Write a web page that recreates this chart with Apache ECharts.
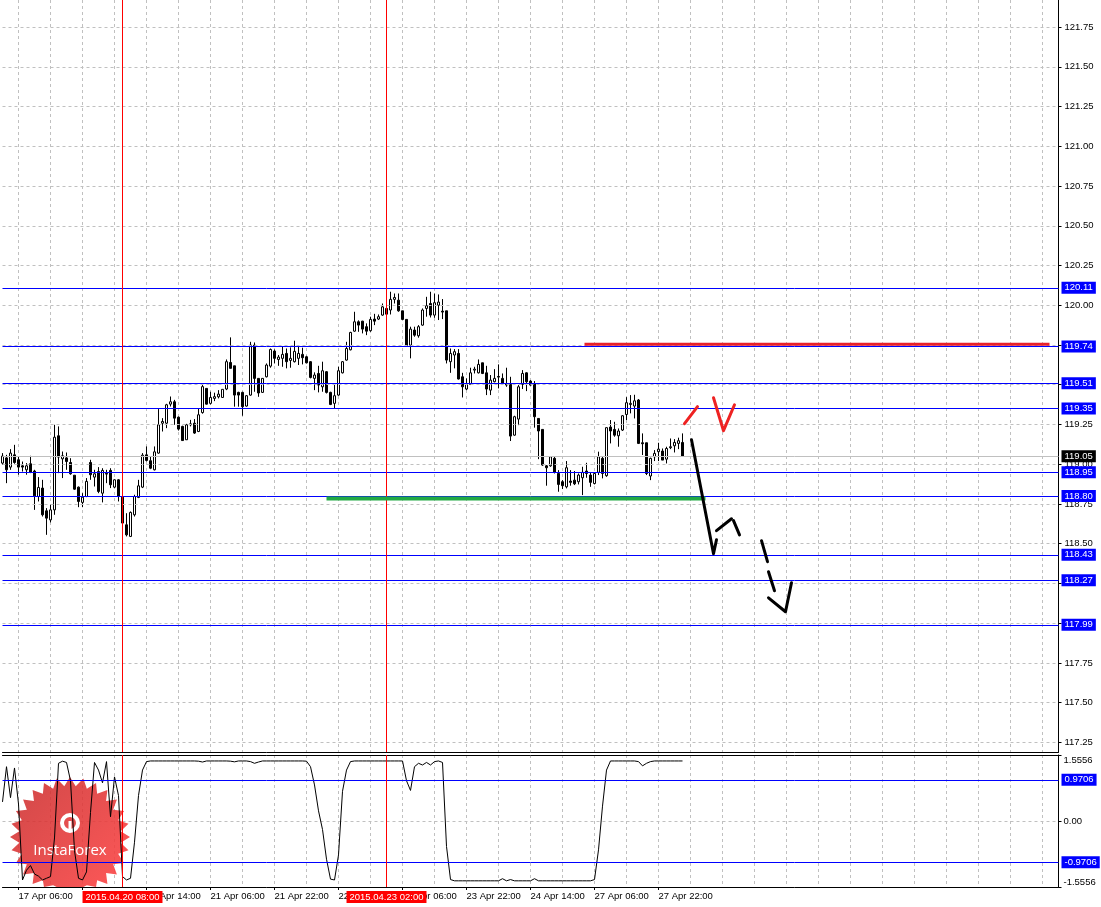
<!DOCTYPE html>
<html><head><meta charset="utf-8">
<script src="https://cdn.jsdelivr.net/npm/echarts@6/dist/echarts.min.js"></script>
<style>html,body{margin:0;padding:0;background:#fff}#c{width:1101px;height:907px}</style>
</head><body><div id="c"></div>
<script>
// ---------- DATA ----------
const openVals = [119.007,119.040,118.982,119.059,119.028,118.990,118.965,119.003,118.957,118.797,
118.850,118.707,118.650,118.713,119.179,119.034,119.040,119.011,118.931,118.856,
118.760,118.797,119.011,118.919,118.954,118.818,118.942,118.961,118.856,118.902,
118.793,118.619,118.546,118.682,118.791,118.856,119.059,119.022,118.965,119.070,
119.258,119.258,119.378,119.393,119.296,119.238,119.154,119.248,119.258,119.206,
119.325,119.477,119.383,119.414,119.424,119.420,119.473,119.640,119.619,119.452,
119.452,119.366,119.435,119.749,119.540,119.452,119.550,119.617,119.712,119.659,
119.666,119.697,119.653,119.645,119.666,119.691,119.676,119.645,119.540,119.571,
119.487,119.582,119.452,119.383,119.435,119.575,119.655,119.720,119.837,119.896,
119.900,119.865,119.840,119.913,119.913,119.938,119.980,119.970,120.037,120.032,
119.965,119.911,119.749,119.844,119.808,119.875,119.980,120.011,119.938,120.000,
119.963,119.965,119.645,119.687,119.697,119.550,119.473,119.502,119.592,119.575,
119.638,119.575,119.466,119.519,119.552,119.540,119.504,119.502,119.183,119.284,
119.502,119.575,119.523,119.508,119.288,119.219,118.990,118.990,119.037,118.942,
118.890,118.858,118.894,118.900,118.890,118.915,118.957,118.932,118.879,118.949,
119.037,118.928,119.234,119.219,119.179,119.215,119.313,119.376,119.366,119.404,
119.135,119.135,118.926,119.047,119.079,119.083,119.032,119.104,119.116,119.131,119.137];
const closeVals = [119.051,118.965,119.070,119.011,118.982,118.982,118.990,118.948,118.801,118.854,
118.682,118.661,118.713,119.170,119.045,119.053,119.017,118.940,118.843,118.766,
118.793,118.892,118.934,118.940,118.829,118.961,118.938,118.871,118.902,118.797,
118.630,118.556,118.697,118.797,118.864,119.057,119.024,118.975,119.078,119.248,
119.269,119.374,119.393,119.290,119.221,119.149,119.248,119.254,119.196,119.311,
119.488,119.378,119.420,119.425,119.441,119.471,119.645,119.603,119.435,119.435,
119.362,119.431,119.749,119.540,119.448,119.540,119.624,119.722,119.666,119.674,
119.691,119.645,119.666,119.710,119.697,119.670,119.638,119.546,119.561,119.498,
119.588,119.452,119.376,119.431,119.588,119.645,119.728,119.829,119.896,119.875,
119.850,119.837,119.911,119.900,119.928,119.990,119.944,120.037,120.049,119.965,
119.911,119.743,119.850,119.812,119.865,119.970,119.997,119.938,120.016,120.020,
119.957,119.655,119.697,119.708,119.536,119.487,119.502,119.575,119.598,119.628,
119.571,119.473,119.529,119.540,119.548,119.508,119.498,119.177,119.299,119.487,
119.571,119.519,119.498,119.299,119.209,118.995,118.978,119.047,118.949,118.873,
118.865,118.978,118.886,118.877,118.932,118.949,118.942,118.886,118.942,119.047,
118.942,119.230,119.209,119.183,119.209,119.305,119.387,119.383,119.399,119.131,
119.129,118.942,119.037,119.068,119.095,119.026,119.099,119.110,119.137,119.148,119.050];
const lowVals = [118.996,118.881,118.965,119.003,118.934,118.954,118.934,118.944,118.713,118.766,
118.671,118.556,118.634,118.682,118.944,118.913,118.965,118.934,118.839,118.730,
118.730,118.793,118.902,118.860,118.818,118.760,118.881,118.850,118.850,118.766,
118.625,118.546,118.542,118.671,118.787,118.850,119.017,118.969,118.961,119.066,
119.206,119.227,119.363,119.248,119.212,119.149,119.154,119.238,119.191,119.202,
119.318,119.376,119.376,119.397,119.414,119.418,119.466,119.603,119.362,119.362,
119.305,119.362,119.431,119.456,119.424,119.448,119.546,119.607,119.634,119.619,
119.613,119.603,119.607,119.640,119.624,119.628,119.634,119.540,119.466,119.452,
119.456,119.445,119.372,119.351,119.431,119.571,119.651,119.716,119.833,119.833,
119.823,119.812,119.833,119.875,119.907,119.934,119.942,119.942,120.011,119.959,
119.907,119.739,119.666,119.802,119.796,119.871,119.928,119.923,119.921,119.907,
119.913,119.634,119.575,119.603,119.533,119.420,119.466,119.498,119.571,119.571,
119.567,119.435,119.435,119.515,119.477,119.502,119.487,119.146,119.179,119.246,
119.473,119.460,119.494,119.230,119.032,118.990,118.865,118.984,118.942,118.827,
118.844,118.848,118.865,118.869,118.873,118.806,118.915,118.858,118.873,118.932,
118.911,118.921,119.131,119.173,119.110,119.209,119.278,119.320,119.288,119.127,
119.058,118.932,118.900,119.020,119.020,119.026,119.005,119.095,119.074,119.095,119.047];
const highVals = [119.070,119.059,119.095,119.122,119.049,119.017,119.007,119.053,118.965,118.919,
118.902,118.724,118.745,119.248,119.238,119.080,119.074,119.038,118.931,118.860,
118.818,118.913,119.028,118.965,118.982,118.975,118.965,118.975,118.906,118.906,
118.793,118.692,118.703,118.808,118.902,119.070,119.112,119.049,119.112,119.347,
119.290,119.380,119.426,119.405,119.300,119.242,119.254,119.279,119.284,119.353,
119.500,119.477,119.456,119.450,119.466,119.471,119.659,119.798,119.619,119.456,
119.456,119.435,119.770,119.766,119.540,119.540,119.634,119.728,119.722,119.687,
119.739,119.728,119.735,119.777,119.739,119.733,119.682,119.649,119.578,119.619,
119.645,119.586,119.456,119.502,119.613,119.649,119.770,119.833,119.959,119.905,
119.902,119.886,119.928,119.946,119.942,120.011,119.997,120.085,120.074,120.074,
119.965,119.911,119.865,119.865,119.875,119.980,120.053,120.085,120.074,120.068,
120.039,119.965,119.728,119.724,119.724,119.575,119.540,119.607,119.613,119.659,
119.638,119.619,119.561,119.598,119.628,119.571,119.607,119.550,119.305,119.498,
119.592,119.578,119.529,119.523,119.288,119.219,118.995,119.051,119.047,118.963,
118.900,119.020,118.963,118.957,118.942,118.984,119.009,118.949,118.946,119.079,
119.047,119.232,119.278,119.267,119.225,119.309,119.422,119.435,119.437,119.410,
119.194,119.135,119.041,119.089,119.135,119.099,119.110,119.162,119.158,119.167,119.194];
const oscVals = [0.45,1.28,0.55,1.25,0.40,-1.39,-1.16,-1.05,-1.25,-1.30,
-1.39,-1.35,-1.31,-0.40,1.36,1.41,1.38,0.95,-0.70,-1.35,
-1.39,-1.20,0.20,1.38,1.20,0.90,1.40,0.10,1.04,0.60,
-1.31,-1.39,-1.35,-0.50,0.60,1.20,1.40,1.415,1.415,1.415,
1.415,1.415,1.415,1.415,1.415,1.415,1.415,1.415,1.415,1.41,
1.39,1.415,1.415,1.415,1.415,1.415,1.415,1.41,1.395,1.415,
1.415,1.415,1.40,1.36,1.39,1.415,1.415,1.415,1.415,1.415,
1.415,1.415,1.415,1.415,1.415,1.415,1.41,1.28,0.85,0.24,
-0.20,-0.90,-1.37,-1.39,-0.80,0.70,1.20,1.40,1.415,1.415,
1.415,1.415,1.415,1.415,1.415,1.415,1.415,1.415,1.415,1.415,
1.415,0.95,0.72,1.28,1.36,1.32,1.38,1.32,1.40,1.415,
1.38,-0.60,-1.38,-1.41,-1.41,-1.41,-1.41,-1.41,-1.41,-1.41,
-1.41,-1.41,-1.41,-1.41,-1.41,-1.36,-1.41,-1.38,-1.41,-1.41,
-1.41,-1.41,-1.41,-1.36,-1.41,-1.41,-1.41,-1.41,-1.41,-1.41,
-1.41,-1.41,-1.41,-1.41,-1.41,-1.41,-1.41,-1.41,-1.38,-0.68,
0.35,1.20,1.415,1.415,1.415,1.415,1.415,1.415,1.415,1.40,
1.30,1.36,1.40,1.415,1.415,1.415,1.415,1.415,1.415,1.415,1.415];

const tickValues = [117.25,117.50,117.75,118.00,118.25,118.50,118.75,119.00,119.25,119.50,119.75,120.00,120.25,120.50,120.75,121.00,121.25,121.50,121.75];
const tickLabels = tickValues.map(v => v.toFixed(2));
const levelValues = [120.11,119.74,119.51,119.35,118.95,118.80,118.43,118.27,117.99];
const levelLabels = ['120.11','119.74','119.51','119.35','118.95','118.80','118.43','118.27','117.99'];
const lastPrice = 119.05, lastPriceLabel = '119.05';
const oscLevels = [0.9706,-0.9706], oscLevelLabels = ['0.9706','-0.9706'];
const oscMin = -1.5556, oscMax = 1.5556;
const markerIdx = [30, 96], markerLabels = ['2015.04.20 08:00','2015.04.23 02:00'];

// hand-drawn annotations, in (bar index, price)
const redLevel = [[145.5,119.755],[261.75,119.755]];
const greenLevel = [[81,118.785],[175.75,118.785]];
const redStrokes = [
  [[170.5,119.255],[173.75,119.362]],
  [[177.75,119.418],[180.25,119.211],[183,119.374]]
];
const blackStrokes = [
  [[172.25,119.154],[177.75,118.437],[178.5,118.525]],
  [[178.5,118.582],[182.25,118.657]],
  [[182.75,118.645],[184.25,118.556]],
  [[189.75,118.519],[191.25,118.387]],
  [[191.5,118.324],[193.0,118.204]],
  [[191.5,118.160],[195.75,118.072],[197.25,118.255]]
];

// categories: hourly bars, weekends skipped
const months = ['Jan','Feb','Mar','Apr','May','Jun','Jul','Aug','Sep','Oct','Nov','Dec'];
const categories = [];
(function(){ let t = Date.UTC(2015,3,17,2);
  while (categories.length < 265) { const d = new Date(t); const wd = d.getUTCDay();
    if (wd !== 0 && wd !== 6) categories.push(d.getUTCDate()+' '+months[d.getUTCMonth()]+' '+String(d.getUTCHours()).padStart(2,'0')+':00');
    t += 3600000; } })();
const NBARS = openVals.length;

// ---------- CHART ----------
const FONT = 'Liberation Sans';
const FS = 9.5;
const chart = echarts.init(document.getElementById('c'), null, {renderer:'canvas'});
const candleData = openVals.map((o,i)=>[o, closeVals[i], lowVals[i], highVals[i]]);
const labelShow = (i) => i < NBARS && (i - 4) % 16 === 0;
const gridShow = (i) => (i - 4) % 8 === 0;
const dashed = {color:'#c0c0c0', width:1, type:[3,3]};

const strokeSeries = [];
redStrokes.forEach(s => strokeSeries.push({type:'line', xAxisIndex:3, yAxisIndex:0, data:s, showSymbol:false, silent:true, z:6,
  lineStyle:{color:'#ee2222', width:3, cap:'round', join:'round'}}));
blackStrokes.forEach(s => strokeSeries.push({type:'line', xAxisIndex:3, yAxisIndex:0, data:s, showSymbol:false, silent:true, z:6,
  lineStyle:{color:'#000000', width:3, cap:'round', join:'round'}}));

// logo geometry
const cx = 70, cy = 837;
const star = [];
for (let k = 0; k < 56; k++) { const r = k % 2 ? 51 : 60; const a = Math.PI * k / 28 - Math.PI/2;
  star.push([cx + r*Math.cos(a), Math.min(887, cy + r*Math.sin(a))]); }

const noZeroLine = {show:true, onZero:false, lineStyle:{color:'#000', width:1}};

chart.setOption({
  animation:false,
  backgroundColor:'#ffffff',
  textStyle:{fontFamily:FONT},
  grid:[{left:2.5, top:0, width:1056, height:752}, {left:2.5, top:755, width:1056, height:132}],
  xAxis:[
    {type:'category', gridIndex:0, data:categories, boundaryGap:false,
      axisLine:noZeroLine, axisTick:{show:false}, axisLabel:{show:false},
      splitLine:{show:true, interval:gridShow, lineStyle:dashed}},
    {type:'category', gridIndex:1, data:categories, boundaryGap:false,
      axisLine:noZeroLine,
      axisTick:{show:true, interval:labelShow, length:3, lineStyle:{color:'#000'}},
      axisLabel:{show:true, interval:labelShow, align:'left', margin:4, color:'#000', fontSize:FS, fontFamily:FONT},
      splitLine:{show:true, interval:gridShow, lineStyle:dashed}},
    {type:'category', gridIndex:1, data:categories, boundaryGap:false, position:'top',
      axisLine:noZeroLine, axisTick:{show:false}, axisLabel:{show:false}, splitLine:{show:false}},
    {type:'value', gridIndex:0, min:0, max:categories.length-1, show:false, axisLine:{onZero:false}}
  ],
  yAxis:[
    {type:'value', gridIndex:0, position:'right', min:117.19, max:121.92,
      axisLine:noZeroLine, axisTick:{show:true, customValues:tickValues, length:3, lineStyle:{color:'#000'}},
      axisLabel:{show:false}, splitLine:{show:false}},
    {type:'value', gridIndex:1, position:'right', min:oscMin, max:oscMax, interval:oscMax,
      axisLine:noZeroLine,
      axisTick:{show:true, length:3, lineStyle:{color:'#000'}},
      axisLabel:{show:true, margin:5, color:'#000', fontSize:FS, fontFamily:FONT,
        verticalAlignMaxLabel:'top', verticalAlignMinLabel:'bottom',
        formatter:(v)=> Math.abs(v) < 1e-9 ? '0.00' : v.toFixed(4)},
      splitLine:{show:true, lineStyle:dashed}}
  ],
  graphic:[
    {type:'polygon', z:1, silent:true, shape:{points:star},
      style:{fill:new echarts.graphic.LinearGradient(0,0,1,1,[{offset:0,color:'rgba(200,40,40,0.85)'},{offset:1,color:'rgba(255,70,70,0.9)'}])}},
    {type:'circle', z:1, silent:true, shape:{cx:cx, cy:cy-14, r:8}, style:{fill:'none', stroke:'#fff', lineWidth:4}},
    {type:'rect', z:1, silent:true, shape:{x:cx-1.5, y:cy-16, width:3, height:10}, style:{fill:'#fff'}},
    {type:'text', z:1, silent:true, x:cx, y:cy+14, style:{text:'InstaForex', fill:'#fff', fontSize:15, fontFamily:'Open Sans', align:'center', verticalAlign:'middle'}}
  ],
  series:[
    // price grid lines + tick labels
    {type:'line', xAxisIndex:0, yAxisIndex:0, data:[], z:1, silent:true,
      markLine:{symbol:'none', silent:true, animation:false,
        lineStyle:dashed,
        label:{show:true, position:'end', distance:6, color:'#000', fontSize:FS, fontFamily:FONT},
        data: tickValues.map((v,i)=>({yAxis:v, label:{formatter:tickLabels[i]}}))}},
    {type:'candlestick', xAxisIndex:0, yAxisIndex:0, data:candleData, barWidth:2, clip:false, z:3, silent:true,
      itemStyle:{color:'#ffffff', color0:'#000000', borderColor:'#000000', borderColor0:'#000000', borderWidth:1}},
    // level lines
    {type:'line', xAxisIndex:0, yAxisIndex:0, data:[], z:4, silent:true,
      markLine:{symbol:'none', silent:true, animation:false,
        label:{show:true, position:'end', distance:3, fontSize:FS, fontFamily:FONT, padding:[1,3,1,3]},
        data: [{yAxis:lastPrice, lineStyle:{color:'#c0c0c0', width:1, type:'solid'},
                label:{formatter:lastPriceLabel, color:'#fff', backgroundColor:'#000'}}]
          .concat(levelValues.map((v,i)=>({yAxis:v, lineStyle:{color:'#0000ff', width:1, type:'solid'},
                label:{formatter:levelLabels[i], color:'#fff', backgroundColor:'#0000ff'}})))
          .concat(markerIdx.map(k=>({xAxis:categories[k], lineStyle:{color:'#ff0000', width:1, type:'solid'}, label:{show:false}})))}},
    {type:'line', xAxisIndex:3, yAxisIndex:0, data:redLevel, showSymbol:false, silent:true, z:5,
      lineStyle:{color:'#e8202a', width:3}},
    {type:'line', xAxisIndex:3, yAxisIndex:0, data:greenLevel, showSymbol:false, silent:true, z:5,
      lineStyle:{color:'#22aa44', width:4}},
    ...strokeSeries,
    // indicator
    {type:'line', xAxisIndex:1, yAxisIndex:1, data:oscVals, showSymbol:false, silent:true, z:3,
      lineStyle:{color:'#000', width:1},
      markLine:{symbol:'none', silent:true, animation:false,
        label:{show:true, position:'end', distance:3, fontSize:FS, fontFamily:FONT, padding:[1,3,1,3]},
        data: oscLevels.map((v,i)=>({yAxis:v, lineStyle:{color:'#0000ff', width:1, type:'solid'},
                label:{formatter:oscLevelLabels[i], color:'#fff', backgroundColor:'#0000ff'}}))
          .concat(markerIdx.map((k,i)=>({xAxis:categories[k], lineStyle:{color:'#ff0000', width:1, type:'solid'},
                label:{show:true, position:'start', distance:4, formatter:markerLabels[i], color:'#fff', backgroundColor:'#ff0000', padding:[1,3,1,3]}})))}}
  ]
});
</script>
</body></html>
